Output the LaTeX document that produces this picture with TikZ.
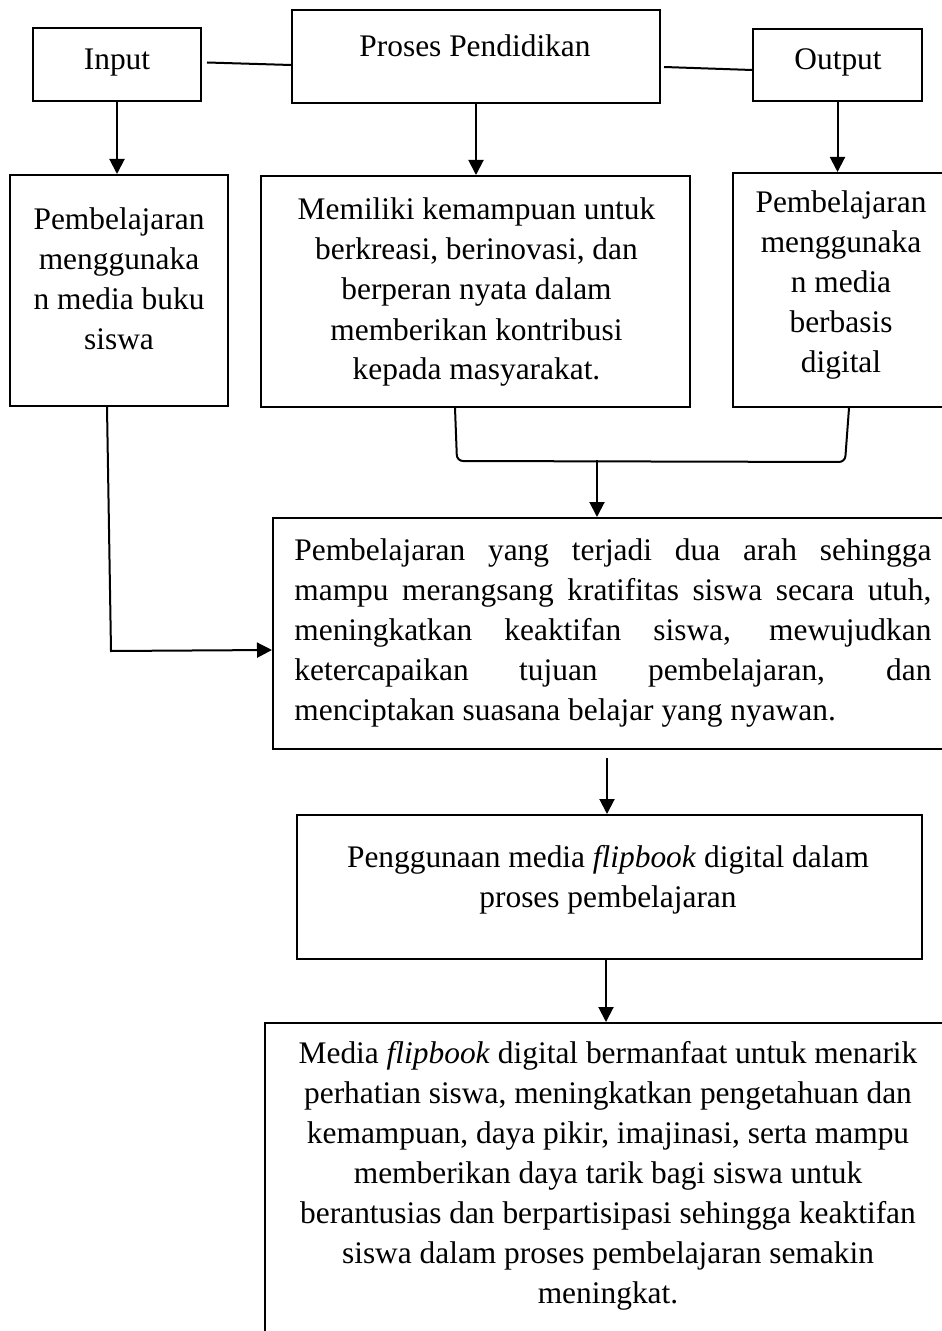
\documentclass[tikz,border=0pt]{standalone}
\usepackage{fontspec}
\setmainfont{Liberation Serif}
\usetikzlibrary{arrows.meta,calc}
\begin{document}
\begin{tikzpicture}[x=0.5pt,y=-0.5pt,
  box/.style={draw,line width=1pt,inner sep=0pt},
  txt/.style={align=center,font=\fontsize{15.7pt}{20pt}\selectfont,inner sep=0pt,anchor=base},
  conn/.style={line width=1pt},
  arr/.style={line width=1pt,-{Triangle[length=7.5pt,width=7.5pt]}}]
\useasboundingbox (0,0) rectangle (941,1331);
% boxes
\node[box,minimum width=84pt,minimum height=36.5pt] (inp) at (117,64.5) {};
\node[box,minimum width=184pt,minimum height=46.5pt] (proc) at (476,56.5) {};
\node[box,minimum width=84.5pt,minimum height=36pt] (outp) at (837.5,65) {};
\node[box,minimum width=109pt,minimum height=115.5pt] (b1) at (119,290.5) {};
\node[box,minimum width=214.5pt,minimum height=115.5pt] (b2) at (475.5,291.5) {};
\node[box,minimum width=108pt,minimum height=117pt] (b3) at (841,290) {};
\node[box,minimum width=343.5pt,minimum height=115.5pt] (b4) at (616.5,633.5) {};
\node[box,minimum width=312.5pt,minimum height=72pt] (b5) at (609.5,887) {};
\node[box,minimum width=343pt,minimum height=188.5pt] (b6) at (608,1211.5) {};
% texts (base anchor = baseline of the last line)
\node[txt] (tinp) at (117,70) {Input};
\node[txt] (tproc) at (475,57) {Proses Pendidikan};
\node[txt] (tout) at (838,70) {Output};
\node[txt] (t1) at (119,350) {Pembelajaran\\menggunaka\\n media buku\\siswa};
\node[txt] (t2) at (476.5,380) {Memiliki kemampuan untuk\\berkreasi, berinovasi, dan\\berperan nyata dalam\\memberikan kontribusi\\kepada masyarakat.};
\node[txt] (t3) at (841,373) {Pembelajaran\\menggunaka\\n media\\berbasis\\digital};
\node[txt,align=left,anchor=base west] (t4) at (294,720) {%
\makebox[318.5pt][s]{Pembelajaran yang terjadi dua arah sehingga}\\
\makebox[318.5pt][s]{mampu merangsang kratifitas siswa secara utuh,}\\
\makebox[318.5pt][s]{meningkatkan keaktifan siswa, mewujudkan}\\
\makebox[318.5pt][s]{ketercapaikan tujuan pembelajaran, dan}\\
menciptakan suasana belajar yang nyawan.};
\node[txt] (t5) at (608,907) {Penggunaan media \textit{flipbook} digital dalam\\proses pembelajaran};
\node[txt] (t6) at (608,1303) {Media \textit{flipbook} digital bermanfaat untuk menarik\\perhatian siswa, meningkatkan pengetahuan dan\\kemampuan, daya pikir, imajinasi, serta mampu\\memberikan daya tarik bagi siswa untuk\\berantusias dan berpartisipasi sehingga keaktifan\\siswa dalam proses pembelajaran semakin\\meningkat.};
% connectors
\draw[conn] ($(inp.east)+(5,-2)$) -- ($(proc.west)+(0,8.5)$);
\draw[conn] ($(proc.east)+(3,10.5)$) -- ($(outp.west)+(0,5)$);
\draw[arr] (inp.south) -- (inp.south |- b1.north);
\draw[arr] (proc.south) -- (proc.south |- b2.north);
\draw[arr] (outp.south) -- (outp.south |- b3.north);
\coordinate (j) at (597,460);
\draw[conn,rounded corners=3pt] ($(b2.south)+(-20.5,0)$) -- ($(b2.south)+(-18.5,53)$) -- ($(b3.south)+(4,54)$) -- ($(b3.south)+(8,0)$);
\draw[arr] (j) -- (j |- b4.north);
\draw[arr] ($(b1.south)+(-12,0)$) -- ($(b1.south)+(-8,244)$) -- ($(b4.west)+(0,16.5)$);
\draw[arr] ($(b4.south)+(-9.5,8)$) -- ($(b5.north)+(-2.5,0)$);
\draw[arr] ($(b5.south)+(-3.5,0)$) -- ($(b6.north)+(-2,0)$);
\end{tikzpicture}
\end{document}
